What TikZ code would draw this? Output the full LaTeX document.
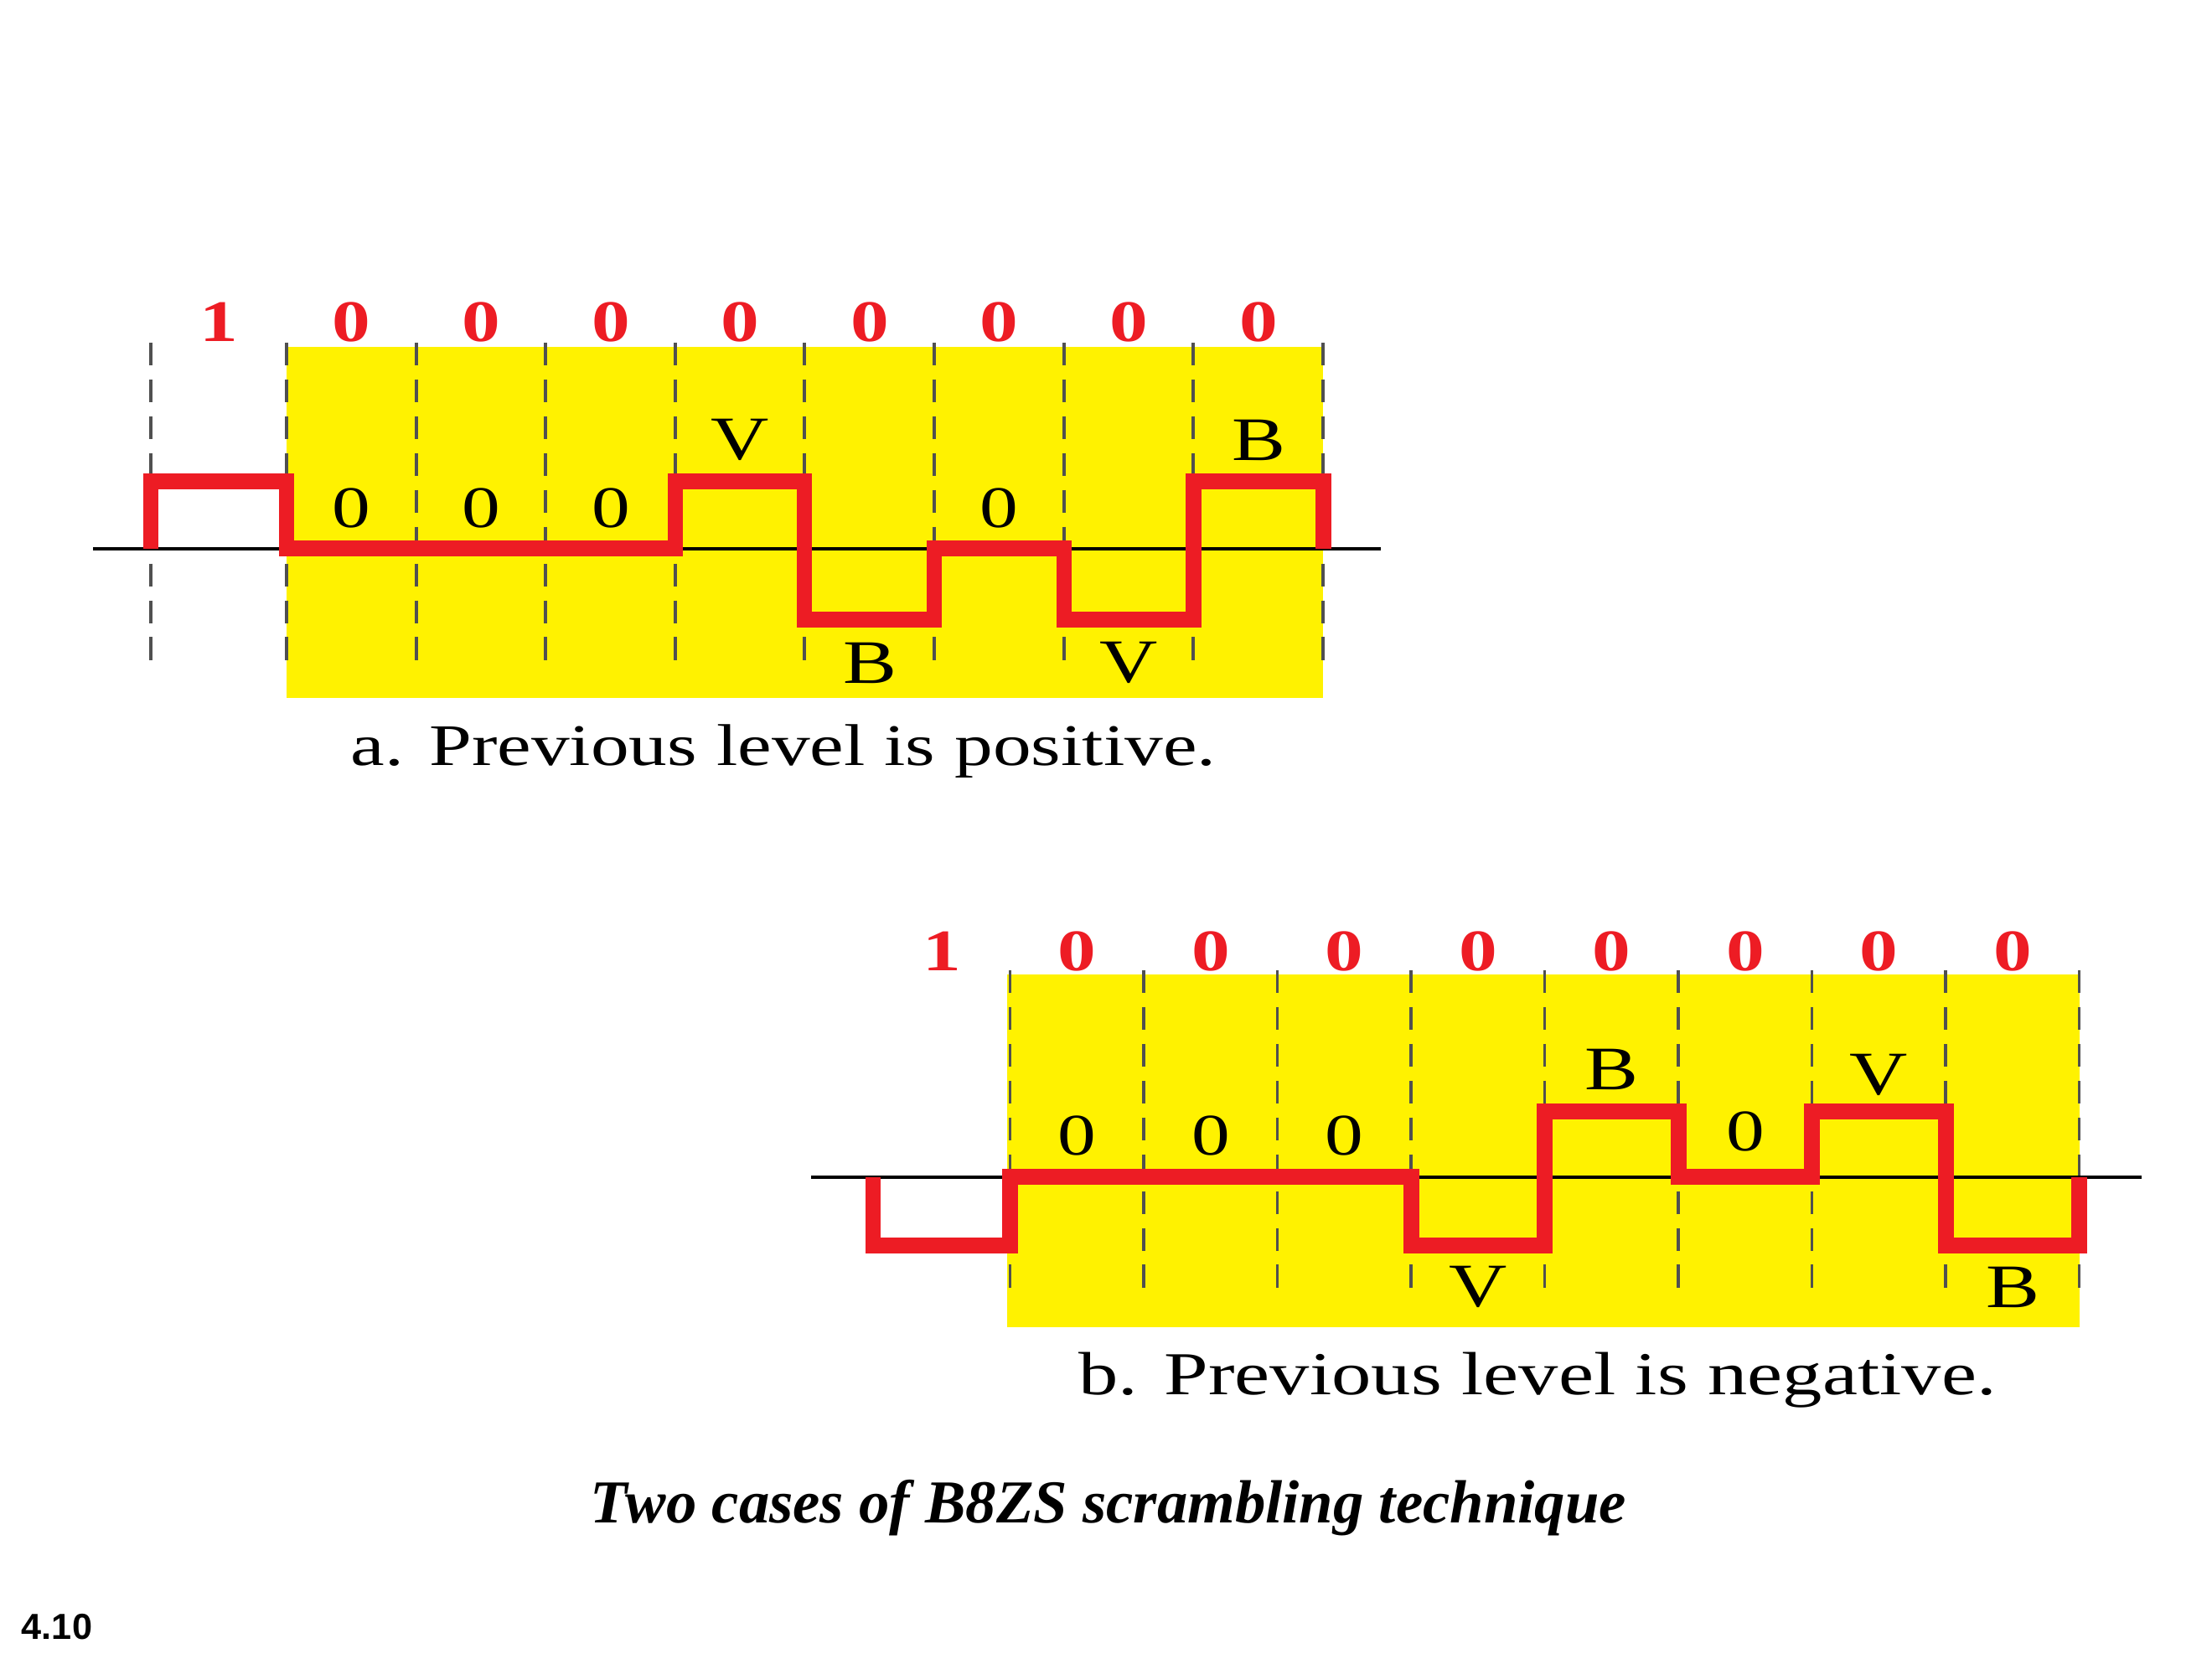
\documentclass[tikz,border=0pt]{standalone}
\usepackage{fontspec}
\setmainfont{Liberation Serif}
\newfontfamily\wavefont[FakeStretch=1.3]{Liberation Serif}
\newfontfamily\fignofont{Liberation Sans}

\definecolor{bitred}{RGB}{237,28,36}
\definecolor{zoneyellow}{RGB}{255,242,0}
\definecolor{slotgray}{RGB}{80,80,80}

\tikzset{
  bitlabel/.style={text=bitred, inner sep=0pt, font=\wavefont\bfseries\fontsize{20}{24}\selectfont},
  levellabel/.style={inner sep=0pt, font=\wavefont\fontsize{20}{24}\selectfont},
  pulselabel/.style={inner sep=0pt, font=\wavefont\fontsize{21}{25}\selectfont},
  caselabel/.style={inner sep=0pt, anchor=base, font=\wavefont\fontsize{20}{24}\selectfont},
  slotline/.style={slotgray, line width=1pt, dash pattern=on 7.7pt off 4.8pt},
  axisline/.style={black, line width=1.2pt},
  signal/.style={bitred, line width=5.4pt, line join=miter},
}

\begin{document}
\begin{tikzpicture}

\useasboundingbox (0,0) rectangle (26.4,19.8);

% Case a: scrambled zone, slots and axis
\fill[zoneyellow] (3.42,11.47) rectangle (15.79,15.66);
\foreach \x in {1.80,3.42,4.97,6.51,8.06,9.60,11.15,12.70,14.24,15.79}
  \draw[slotline] (\x,15.71) -- (\x,11.92);
\draw[axisline] (1.11,13.25) -- (16.48,13.25);

% Case a: signal
\draw[signal] (1.80,13.25) -- (1.80,14.05) -- (3.42,14.05) -- (3.42,13.25)
  -- (8.06,13.25) -- (8.06,14.05) -- (9.60,14.05) -- (9.60,12.40)
  -- (11.15,12.40) -- (11.15,13.25) -- (12.70,13.25) -- (12.70,12.40)
  -- (14.24,12.40) -- (14.24,14.05) -- (15.79,14.05) -- (15.79,13.25);

% Case a: data bits
\node[bitlabel] (a1) at (2.61,15.96)  {1};
\node[bitlabel] (a2) at (4.19,15.96)  {0};
\node[bitlabel] (a3) at (5.74,15.96)  {0};
\node[bitlabel] (a4) at (7.29,15.96)  {0};
\node[bitlabel] (a5) at (8.83,15.96)  {0};
\node[bitlabel] (a6) at (10.38,15.96) {0};
\node[bitlabel] (a7) at (11.92,15.96) {0};
\node[bitlabel] (a8) at (13.47,15.96) {0};
\node[bitlabel] (a9) at (15.02,15.96) {0};

% Case a: levels
\node[levellabel] (za1) at (4.19,13.74)  {0};
\node[levellabel] (za2) at (5.74,13.74)  {0};
\node[levellabel] (za3) at (7.29,13.74)  {0};
\node[pulselabel] (va1) at (8.83,14.55)  {V};
\node[pulselabel] (ba1) at (10.38,11.89) {B};
\node[levellabel] (za4) at (11.92,13.74) {0};
\node[pulselabel] (va2) at (13.47,11.89) {V};
\node[pulselabel] (ba2) at (15.02,14.55) {B};

\node[caselabel] (capa) at (9.35,10.66) {a. Previous level is positive.};

% Case b: scrambled zone, slots and axis
\fill[zoneyellow] (12.02,3.96) rectangle (24.82,8.17);
\foreach \x in {12.055,13.65,15.245,16.84,18.435,20.03,21.625,23.22,24.815}
  \draw[slotline] (\x,8.22) -- (\x,4.43);
\draw[axisline] (9.68,5.75) -- (25.56,5.75);

% Case b: signal
\draw[signal] (10.42,5.75) -- (10.42,4.93) -- (12.055,4.93) -- (12.055,5.75)
  -- (16.84,5.75) -- (16.84,4.93) -- (18.435,4.93) -- (18.435,6.53)
  -- (20.03,6.53) -- (20.03,5.75) -- (21.625,5.75) -- (21.625,6.53)
  -- (23.22,6.53) -- (23.22,4.93) -- (24.815,4.93) -- (24.815,5.75);

% Case b: data bits
\node[bitlabel] (b1) at (11.24,8.45) {1};
\node[bitlabel] (b2) at (12.85,8.45) {0};
\node[bitlabel] (b3) at (14.45,8.45) {0};
\node[bitlabel] (b4) at (16.04,8.45) {0};
\node[bitlabel] (b5) at (17.64,8.45) {0};
\node[bitlabel] (b6) at (19.23,8.45) {0};
\node[bitlabel] (b7) at (20.83,8.45) {0};
\node[bitlabel] (b8) at (22.42,8.45) {0};
\node[bitlabel] (b9) at (24.02,8.45) {0};

% Case b: levels
\node[levellabel] (zb1) at (12.85,6.25) {0};
\node[levellabel] (zb2) at (14.45,6.25) {0};
\node[levellabel] (zb3) at (16.04,6.25) {0};
\node[pulselabel] (vb1) at (17.64,4.44) {V};
\node[pulselabel] (bb1) at (19.23,7.04) {B};
\node[levellabel] (zb4) at (20.83,6.30) {0};
\node[pulselabel] (vb2) at (22.42,6.97) {V};
\node[pulselabel] (bb2) at (24.02,4.44) {B};

\node[caselabel, font=\wavefont\fontsize{20.7}{25}\selectfont]
  (capb) at (18.35,3.15) {b. Previous level is negative.};

% Title and figure number
\node[anchor=base, inner sep=0pt, font=\bfseries\itshape\fontsize{20.7}{25}\selectfont]
  (title) at (13.23,1.62) {Two cases of B8ZS scrambling technique};
\node[inner sep=0pt, font=\fignofont\bfseries\fontsize{12.3}{15}\selectfont]
  (figno) at (0.68,0.38) {4.10};

\end{tikzpicture}
\end{document}
